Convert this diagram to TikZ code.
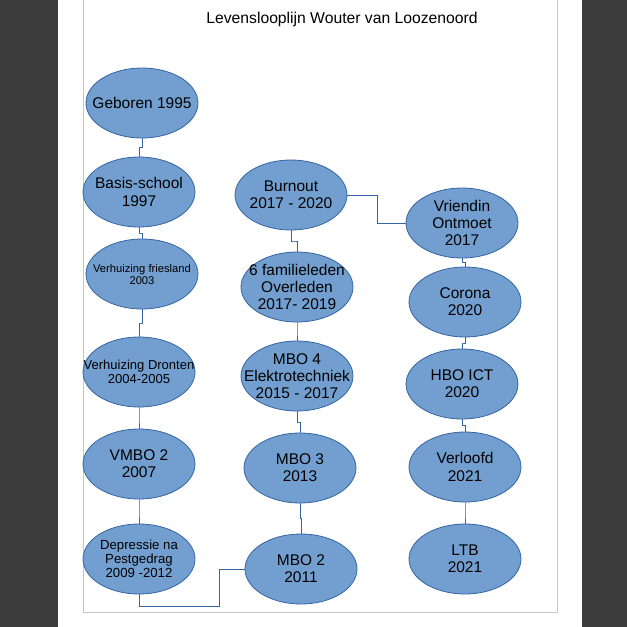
\documentclass[tikz,border=0pt]{standalone}
\usepackage{fontspec}
\setmainfont{Liberation Sans}
\usepackage{tikz}
\usetikzlibrary{shapes.geometric,calc}

\definecolor{shapefill}{HTML}{729FCF}
\definecolor{shapeline}{HTML}{3465A4}
\definecolor{desk}{HTML}{3C3C3C}
\definecolor{pageframe}{HTML}{C6C6C6}

\begin{document}
\begin{tikzpicture}[x=1pt, y=-1pt,
  event/.style={draw=shapeline, fill=shapefill, ellipse, minimum width=112pt,
    minimum height=70pt, inner xsep=-30pt, inner ysep=-15pt, align=center,
    line width=0.8pt, font=\fontsize{15.5}{17.3}\selectfont},
  link/.style={draw=shapeline, line width=0.8pt}]
  \useasboundingbox (0,0) rectangle (627,627);

  % Page
  \fill[desk] (0,0) rectangle (627,627);
  \fill[white] (58,0) rectangle (582,627);
  \draw[pageframe] (83,-5) rectangle (557,612);

  % Title
  \node[font=\fontsize{15.7}{18}\selectfont] (title) at (342,19) {Levenslooplijn Wouter van Loozenoord};

  % First column
  \node[event] (g1) at (142,103) {Geboren 1995};
  \node[event] (g2) at (139,192) {Basis-school\\1997};
  \node[event, font=\fontsize{11.2}{12}\selectfont] (g3) at (142,274) {Verhuizing friesland\\2003};
  \node[event, font=\fontsize{13}{14.3}\selectfont] (g4) at (139,372) {Verhuizing Dronten\\2004-2005};
  \node[event] (g5) at (139,464) {VMBO 2\\2007};
  \node[event, font=\fontsize{13.2}{14}\selectfont] (g6) at (139,559) {Depressie na\\Pestgedrag\\2009 -2012};

  % Second column
  \node[event] (m1) at (301,569) {MBO 2\\2011};
  \node[event] (m2) at (300,468) {MBO 3\\2013};
  \node[event] (m3) at (297,376) {MBO 4\\Elektrotechniek\\2015 - 2017};
  \node[event] (m4) at (297,287) {6 familieleden\\Overleden\\2017- 2019};
  \node[event] (m5) at (291,195) {Burnout\\2017 - 2020};

  % Third column
  \node[event] (v1) at (462,223) {Vriendin\\Ontmoet\\2017};
  \node[event] (v2) at (465,302) {Corona\\2020};
  \node[event] (v3) at (462,384) {HBO ICT\\2020};
  \node[event] (v4) at (465,467) {Verloofd\\2021};
  \node[event] (v5) at (465,559) {LTB\\2021};

  % Connectors
  \foreach \a/\b in {g1/g2, g2/g3, g3/g4, g4/g5, g5/g6, m5/m4, m4/m3, m3/m2, m2/m1,
                     v1/v2, v2/v3, v3/v4, v4/v5}
    \draw[link] (\a.south) |- ($(\a.south)!.5!(\b.north)$) -| (\b.north);
  \draw[link] (g6.south) -- ++(0,12) -| (219,569) -- (m1.west);
  \draw[link] (m5.east) -| (377,223) -- (v1.west);
\end{tikzpicture}
\end{document}
